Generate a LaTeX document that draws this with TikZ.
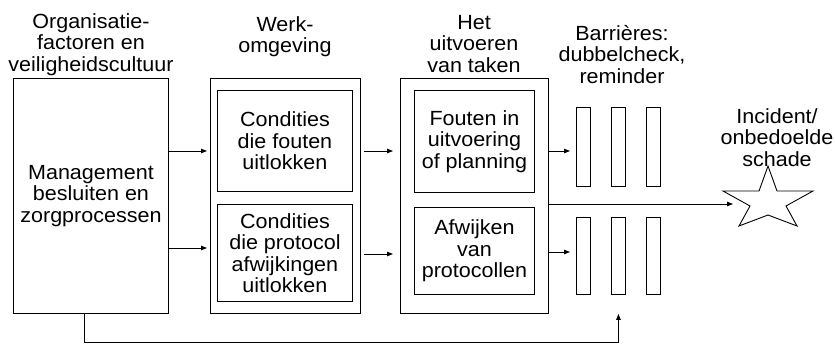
\documentclass[tikz,border=0pt]{standalone}
\usepackage{fontspec}
\setmainfont{Liberation Sans}[FakeStretch=1.05]
\usetikzlibrary{arrows.meta}
\tikzset{
  txt/.style={font=\fontsize{20.5}{21.5}\selectfont, align=center, inner sep=0pt},
  box/.style={draw, line width=0.9pt, inner sep=0pt, anchor=north west, txt},
  bar/.style={draw, line width=0.9pt, inner sep=0pt, anchor=north west},
  title/.style={txt, anchor=north},
  arr/.style={-{Triangle[length=6pt,width=4.5pt]}, line width=0.9pt},
  line/.style={line width=0.9pt}
}
\begin{document}
\begin{tikzpicture}[x=1pt,y=-1pt]
\useasboundingbox (0,0) rectangle (835,344);
% titles
\node[title] (t1) at (91,13) {Organisatie-\\factoren en\\veiligheidscultuur};
\node[title] (t2) at (285,16) {Werk-\\omgeving};
\node[title] (t3) at (474,15) {Het\\uitvoeren\\van taken};
\node[title] (t4) at (622,25) {Barrières:\\dubbelcheck,\\reminder};
\node[title] (t5) at (777,108) {Incident/\\onbedoelde\\schade};
% management
\node[box, minimum width=155pt, minimum height=235pt] (m) at (13,78) {Management\\besluiten en\\zorgprocessen};
% werkomgeving
\node[box, minimum width=150pt, minimum height=235pt] (w) at (210,78) {};
\node[box, minimum width=135pt, minimum height=101pt] (wt) at (217,90) {Condities\\die fouten\\uitlokken};
\node[box, minimum width=135pt, minimum height=97pt] (wb) at (217,204) {Condities\\die protocol\\afwijkingen\\uitlokken};
% taken
\node[box, minimum width=148pt, minimum height=235pt] (t) at (400,78) {};
\node[box, minimum width=120pt, minimum height=102pt] (tt) at (414,90) {Fouten in\\uitvoering\\of planning};
\node[box, minimum width=120pt, minimum height=87pt] (tb) at (414,207) {Afwijken\\van\\protocollen};
% barriers
\node[bar, minimum width=14pt, minimum height=79pt] (b1) at (576,107) {};
\node[bar, minimum width=14pt, minimum height=79pt] (b2) at (611,107) {};
\node[bar, minimum width=14pt, minimum height=79pt] (b3) at (646,107) {};
\node[bar, minimum width=14pt, minimum height=77pt] (b4) at (576,217) {};
\node[bar, minimum width=14pt, minimum height=77pt] (b5) at (611,217) {};
\node[bar, minimum width=14pt, minimum height=77pt] (b6) at (646,217) {};
% star
\draw[line] (768,166) -- (777,191) -- (813,191) -- (786,206) -- (797,226) -- (768,215)
  -- (739,226) -- (750,206) -- (723,191) -- (759,191) -- cycle;
\coordinate (star) at (733,204);
% connectors
\draw[arr, shorten >=3pt] (m.east |- 0,151) -- (w.west |- 0,151);
\draw[arr, shorten >=3pt] (m.east |- 0,248) -- (w.west |- 0,248);
\draw[arr, shorten <=3pt, shorten >=7pt] (w.east |- 0,151) -- (t.west |- 0,151);
\draw[arr, shorten <=3pt, shorten >=7pt] (w.east |- 0,254) -- (t.west |- 0,254);
\draw[arr, shorten >=6pt] (t.east |- 0,151) -- (b1.west |- 0,151);
\draw[arr, shorten >=6pt] (t.east |- 0,252) -- (b4.west |- 0,252);
\draw[arr] (t.east |- 0,204) -- (star);
\draw[arr, shorten >=19pt] (m.south -| 84,0) -- (84,342) -| (b5.south);
\end{tikzpicture}
\end{document}
